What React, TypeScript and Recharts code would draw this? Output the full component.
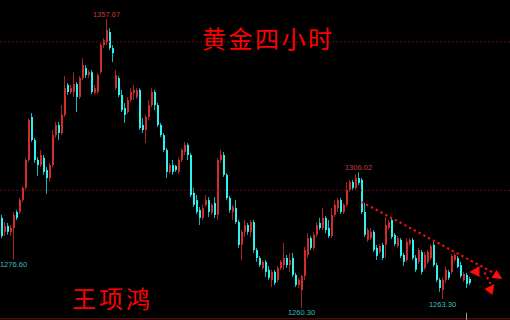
import React from "react"
import { ComposedChart, Bar, XAxis, YAxis, ReferenceLine, ReferenceDot } from "recharts"

// 4-hour gold candles, oldest first
const opens = [
  1290.7, 1286.0, 1288.0, 1286.0, 1287.3, 1292.7, 1292.7, 1296.7, 1300.8, 1310.2,
  1324.7, 1316.9, 1310.2, 1308.5, 1310.9, 1306.8, 1304.1, 1308.5, 1318.6, 1322.0,
  1319.3, 1325.4, 1335.5, 1333.1, 1333.1, 1335.8, 1331.4, 1337.8, 1341.2, 1338.8,
  1339.8, 1332.8, 1333.1, 1339.8, 1348.9, 1349.9, 1353.3, 1347.9, 1334.4, 1337.8,
  1332.1, 1327.7, 1326.4, 1330.4, 1332.8, 1331.4, 1333.8, 1322.0, 1320.3, 1324.7,
  1328.7, 1333.1, 1328.7, 1322.0, 1318.6, 1313.6, 1306.2, 1308.5, 1308.2, 1306.2,
  1310.2, 1312.9, 1315.3, 1311.9, 1299.1, 1296.7, 1293.4, 1290.7, 1295.1, 1296.7,
  1292.4, 1295.7, 1291.7, 1310.2, 1311.9, 1305.2, 1297.4, 1292.7, 1294.0, 1289.3,
  1281.6, 1286.0, 1288.3, 1286.0, 1289.3, 1279.9, 1277.2, 1273.8, 1275.9, 1273.2,
  1269.8, 1272.5, 1269.8, 1273.8, 1274.8, 1277.2, 1274.8, 1277.2, 1271.5, 1268.1,
  1266.4, 1271.1, 1278.2, 1283.9, 1280.6, 1285.0, 1289.0, 1287.3, 1290.7, 1287.3,
  1284.6, 1291.7, 1294.0, 1296.7, 1292.7, 1295.1, 1300.1, 1302.8, 1300.8, 1304.1,
  1303.5, 1292.7, 1283.3, 1283.9, 1286.0, 1280.6, 1279.2, 1281.6, 1281.6, 1287.3,
  1290.0, 1285.0, 1281.2, 1283.3, 1278.2, 1276.5, 1281.9, 1283.3, 1277.2, 1275.9,
  1279.2, 1273.8, 1275.9, 1277.2, 1281.6, 1274.8, 1269.8, 1266.4, 1269.8, 1272.5,
  1272.5, 1276.5, 1277.2, 1274.8, 1269.8, 1271.5, 1270.1,
]

const highs = [
  1291.7, 1289.3, 1289.0, 1288.3, 1292.7, 1293.4, 1297.4, 1301.4, 1310.9, 1324.3,
  1326.0, 1317.6, 1311.2, 1313.6, 1311.9, 1307.8, 1309.2, 1320.3, 1323.0, 1323.0,
  1328.7, 1338.5, 1336.1, 1335.5, 1339.8, 1336.5, 1338.5, 1344.5, 1342.2, 1340.5,
  1340.5, 1335.5, 1339.5, 1349.6, 1351.3, 1357.67, 1354.6, 1348.9, 1340.5, 1338.5,
  1333.8, 1329.4, 1331.4, 1334.4, 1335.5, 1334.4, 1334.4, 1324.3, 1325.4, 1330.4,
  1334.4, 1333.8, 1329.4, 1322.7, 1319.3, 1314.2, 1309.2, 1310.2, 1308.5, 1310.9,
  1314.2, 1316.3, 1315.9, 1312.6, 1300.8, 1298.4, 1294.4, 1295.1, 1298.4, 1297.7,
  1295.7, 1297.7, 1310.9, 1313.6, 1312.9, 1305.8, 1298.1, 1295.1, 1296.7, 1290.0,
  1286.6, 1290.0, 1289.0, 1290.0, 1290.0, 1280.6, 1277.9, 1276.5, 1276.5, 1274.5,
  1273.2, 1273.2, 1274.5, 1276.5, 1282.3, 1278.2, 1278.9, 1278.9, 1272.2, 1270.5,
  1271.5, 1280.9, 1285.6, 1284.6, 1286.0, 1289.3, 1290.7, 1294.0, 1291.3, 1290.0,
  1294.0, 1296.7, 1297.4, 1297.4, 1295.7, 1302.8, 1303.5, 1303.5, 1305.5, 1306.02,
  1304.1, 1295.7, 1287.3, 1287.3, 1286.6, 1281.6, 1281.9, 1282.3, 1291.0, 1290.0,
  1290.7, 1285.6, 1284.6, 1283.9, 1278.9, 1283.9, 1283.9, 1283.9, 1278.2, 1280.6,
  1279.9, 1279.2, 1279.9, 1281.9, 1282.6, 1275.5, 1270.5, 1270.5, 1274.2, 1273.2,
  1278.6, 1278.9, 1277.9, 1275.9, 1272.5, 1272.2, 1270.8,
]

const lows = [
  1283.9, 1284.6, 1285.0, 1284.6, 1276.6, 1290.0, 1292.0, 1296.1, 1300.1, 1309.5,
  1316.3, 1309.2, 1304.8, 1307.8, 1305.2, 1298.8, 1302.8, 1307.8, 1317.6, 1316.9,
  1318.6, 1324.7, 1332.1, 1332.4, 1331.4, 1326.4, 1330.7, 1337.1, 1337.8, 1337.8,
  1332.4, 1332.1, 1332.4, 1339.2, 1347.9, 1348.9, 1347.2, 1343.2, 1333.8, 1331.4,
  1326.4, 1322.7, 1325.7, 1329.7, 1330.4, 1330.7, 1320.3, 1319.3, 1315.9, 1323.7,
  1328.0, 1327.0, 1321.3, 1317.9, 1312.9, 1304.1, 1305.5, 1305.2, 1306.2, 1305.5,
  1309.5, 1311.9, 1310.2, 1297.7, 1294.4, 1292.0, 1288.3, 1290.0, 1294.4, 1291.0,
  1291.7, 1290.7, 1290.0, 1309.2, 1304.5, 1296.7, 1292.4, 1290.0, 1288.7, 1280.6,
  1276.5, 1284.3, 1285.0, 1284.3, 1278.9, 1275.9, 1274.2, 1273.2, 1270.8, 1269.8,
  1267.4, 1268.1, 1269.1, 1273.2, 1273.2, 1273.8, 1272.5, 1270.8, 1267.4, 1267.1,
  1260.3, 1269.8, 1277.2, 1279.9, 1279.9, 1284.3, 1286.6, 1286.6, 1285.6, 1283.9,
  1283.9, 1291.0, 1292.7, 1292.0, 1292.0, 1294.4, 1299.4, 1300.1, 1300.1, 1301.8,
  1292.0, 1284.3, 1282.6, 1283.3, 1279.2, 1276.5, 1278.6, 1276.5, 1277.2, 1286.6,
  1283.6, 1281.2, 1280.6, 1277.2, 1274.5, 1275.9, 1281.2, 1276.5, 1272.5, 1275.2,
  1271.5, 1273.2, 1275.2, 1276.5, 1274.2, 1269.1, 1265.8, 1263.3, 1268.8, 1269.8,
  1271.8, 1275.9, 1273.8, 1270.5, 1269.1, 1267.1, 1268.1,
]

const closes = [
  1284.6, 1288.0, 1286.0, 1287.3, 1291.7, 1290.7, 1296.7, 1300.8, 1310.2, 1323.7,
  1316.9, 1310.2, 1308.5, 1311.9, 1306.2, 1304.1, 1308.5, 1318.6, 1322.0, 1319.3,
  1325.4, 1334.4, 1333.1, 1334.4, 1335.8, 1331.4, 1337.8, 1342.2, 1338.8, 1339.8,
  1333.1, 1334.4, 1338.8, 1348.9, 1350.6, 1354.0, 1347.9, 1346.2, 1338.8, 1332.1,
  1327.0, 1325.4, 1330.4, 1333.1, 1333.8, 1333.8, 1321.0, 1320.3, 1324.7, 1328.7,
  1333.1, 1328.7, 1322.0, 1318.6, 1313.6, 1306.2, 1308.5, 1306.2, 1306.8, 1310.2,
  1313.6, 1315.3, 1311.9, 1298.4, 1295.1, 1292.7, 1290.7, 1294.0, 1296.7, 1292.7,
  1295.1, 1291.7, 1310.2, 1311.9, 1305.2, 1297.4, 1293.4, 1294.4, 1289.3, 1281.6,
  1286.0, 1288.3, 1286.0, 1289.3, 1279.9, 1277.2, 1274.8, 1275.9, 1272.5, 1270.5,
  1272.5, 1268.8, 1273.8, 1275.9, 1277.2, 1274.8, 1276.5, 1271.5, 1268.1, 1269.8,
  1271.1, 1279.9, 1283.9, 1280.6, 1285.0, 1288.3, 1287.3, 1290.7, 1286.6, 1284.6,
  1291.7, 1295.1, 1296.7, 1292.7, 1295.1, 1300.1, 1302.8, 1300.8, 1304.1, 1302.5,
  1292.7, 1285.0, 1286.6, 1286.0, 1279.9, 1277.9, 1281.2, 1277.2, 1288.3, 1289.3,
  1284.3, 1281.9, 1283.9, 1277.9, 1275.9, 1282.6, 1283.3, 1277.2, 1273.2, 1279.9,
  1272.5, 1278.2, 1279.2, 1281.2, 1274.8, 1269.8, 1267.1, 1269.8, 1273.2, 1270.5,
  1277.9, 1278.2, 1274.2, 1271.1, 1271.8, 1268.5, 1268.8,
]

// extra empty slots on the right leave room for the forecast arrows
const SLOTS = 170
const PRICE_MIN = 1256.3
const PRICE_MAX = 1364.1

// horizontal guide levels
const guides = [1350, 1300]
const baseLine = 1256.7

// downtrend line from the 1306 swing high, plus the projected path
const trend = [
  { x: 120, y: 1296.1 },
  { x: 164, y: 1272.2 },
]
const forecast = [
  { x: 161, y: 1272.3 },
  { x: 163, y: 1268.6 },
]

// marked extremes: [candle index, "high" | "low"]
const marks: [number, "high" | "low"][] = [
  [35, "high"],
  [119, "high"],
  [4, "low"],
  [100, "low"],
  [147, "low"],
]

const UP = "#d22c2c"
const UP_WICK = "#a82222"
const DOWN = "#2cf2f2"
const DOWN_WICK = "#14b8b8"
const ARROW = "#ff0d0d"

const rows = Array.from({ length: SLOTS }, (_, i) =>
  i < opens.length
    ? { i, open: opens[i], high: highs[i], low: lows[i], close: closes[i] }
    : { i }
)

function Candle(props: any) {
  const { x, y, width, height, payload } = props
  if (!payload || payload.open == null) return null
  const { open, close, high, low } = payload
  const top = Math.min(y, y + height)
  const bottom = Math.max(y, y + height)
  const k = (bottom - top) / (high - low)
  const py = (v: number) => top + (high - v) * k
  const cx = Math.round(x + width / 2)
  const up = close >= open
  const bodyTop = py(Math.max(open, close))
  const bodyH = Math.max(1, Math.abs(py(open) - py(close)))
  return (
    <g>
      <line x1={cx - 0.5} x2={cx - 0.5} y1={top} y2={bottom} stroke={up ? UP_WICK : DOWN_WICK} strokeWidth={1} />
      <rect x={cx - 1} y={bodyTop} width={2} height={bodyH} fill={up ? UP : DOWN} />
    </g>
  )
}

// small filled arrowhead, points given relative to the anchor
function arrowHead(pts: number[][]) {
  return (p: any) => (
    <polygon
      points={pts.map(([dx, dy]) => `${p.cx + dx},${p.cy + dy}`).join(" ")}
      fill={ARROW}
    />
  )
}

const labelFont = { fontSize: 7.5, fontFamily: "Liberation Sans, Arial, sans-serif" }

export default function App() {
  return (
    <div style={{ position: "fixed", left: 0, top: 0, width: 510, height: 320, background: "#000", overflow: "hidden" }}>
      <ComposedChart width={510} height={320} data={rows} margin={{ top: 0, right: 0, bottom: 0, left: 0 }}>
        <XAxis dataKey="i" type="category" hide />
        <YAxis hide domain={[PRICE_MIN, PRICE_MAX]} allowDataOverflow />
        {guides.map((g) => (
          <ReferenceLine key={g} y={g} stroke="#5c1010" strokeDasharray="2 2" />
        ))}
        <ReferenceLine y={baseLine} stroke="#6e1212" />
        <ReferenceLine segment={[{ x: 155, y: 1258.7 }, { x: 155, y: PRICE_MIN }]} stroke="#9a9a9a" />
        <Bar
          dataKey={(d: any) => (d.open == null ? null : [d.low, d.high])}
          barSize={2}
          shape={(p: any) => <Candle {...p} />}
          isAnimationActive={false}
        />
        <ReferenceLine segment={trend} stroke={ARROW} strokeWidth={2.2} strokeDasharray="2.2 3.2" />
        <ReferenceLine segment={forecast} stroke={ARROW} strokeWidth={2.2} strokeDasharray="2.2 3.2" />
        <ReferenceDot x={165} y={1271.8} r={5} shape={arrowHead([[-5, 4], [0, -4], [6, 5]])} />
        <ReferenceDot x={158} y={1272.8} r={5} shape={arrowHead([[-6, 1], [4, -5], [4, 6]])} />
        <ReferenceDot x={163} y={1267.1} r={5} shape={arrowHead([[-6, 1], [4, -4], [2, 7]])} />
        {marks.map(([idx, side]) => {
          const v = side === "high" ? highs[idx] : lows[idx]
          return (
            <ReferenceDot
              key={idx}
              x={idx}
              y={v}
              r={0}
              fill="none"
              stroke="none"
              label={{
                value: v.toFixed(2),
                position: side === "high" ? "top" : "bottom",
                offset: 2,
                fill: side === "high" ? "#c23a3a" : "#3cbcbc",
                ...labelFont,
              }}
            />
          )
        })}
      </ComposedChart>
      <div
        style={{
          position: "absolute",
          left: 202,
          top: 26,
          fontFamily: "Noto Sans CJK SC",
          fontSize: 24,
          lineHeight: "24px",
          letterSpacing: 2.5,
          color: "#f00",
          whiteSpace: "nowrap",
        }}
      >
        黄金四小时
      </div>
      <div
        style={{
          position: "absolute",
          left: 72,
          top: 286,
          fontFamily: "Noto Sans CJK SC",
          fontSize: 24,
          lineHeight: "24px",
          letterSpacing: 3,
          color: "#f00",
          whiteSpace: "nowrap",
        }}
      >
        王项鸿
      </div>
    </div>
  )
}
